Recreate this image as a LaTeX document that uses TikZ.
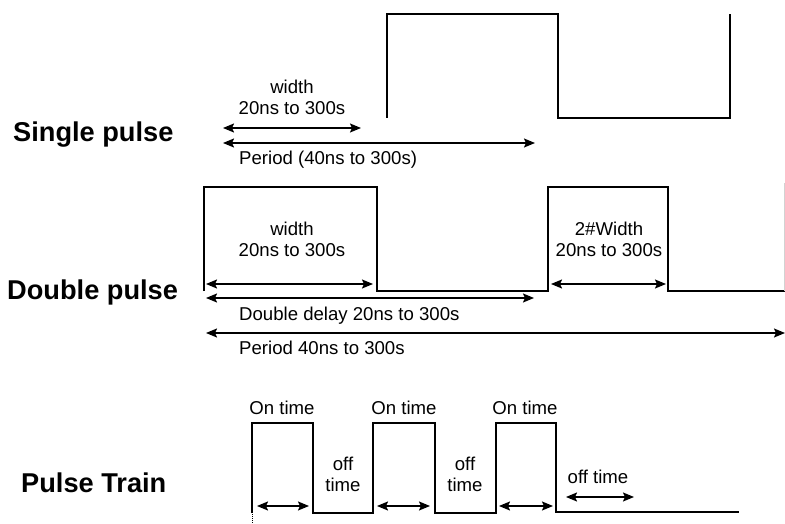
\documentclass[tikz,border=0pt]{standalone}
\usepackage{fontspec}
\setmainfont{Liberation Sans}
\usetikzlibrary{arrows.meta}
\begin{document}
\begin{tikzpicture}[x=1pt,y=-1pt,
  wave/.style={line width=1.6pt,line join=miter},
  dim/.style={line width=1.6pt,{Stealth[length=11pt,width=9pt,inset=2pt]}-{Stealth[length=11pt,width=9pt,inset=2pt]}},
  lbl/.style={font=\fontsize{18.6}{20}\selectfont,inner sep=0pt,anchor=base},
  lbll/.style={lbl,anchor=base west},
  head/.style={font=\fontsize{27.2}{30}\selectfont\bfseries,inner sep=0pt,anchor=base west}]
 \useasboundingbox (0,0) rectangle (785,524);
 % Single pulse
 \node[head] (single) at (13,142) {Single pulse};
 \draw[wave](387,118)--(387,14)--(558,14)--(558,118)--(730,118)--(730,14);
 \coordinate (sw1) at (223,128); \coordinate (sw2) at (361,128);
 \coordinate (sp1) at (223,143); \coordinate (sp2) at (535,143);
 \draw[dim](sw1)--(sw2);
 \draw[dim](sp1)--(sp2);
 \node[lbl] (swidth) at (292,94) {width};
 \node[lbl] (swrange) at (292,115) {20ns to 300s};
 \node[lbll] (speriod) at (239,165) {Period (40ns to 300s)};
 % Double pulse
 \node[head] (double) at (7,299) {Double pulse};
 \draw[wave](204,291)--(204,187)--(377,187)--(377,291)--(548,291)--(548,187)--(668,187)--(668,291)--(785,291);
 \draw[gray!35,line width=0.6pt](784.5,291)--(784.5,183);
 \coordinate (dw1) at (206,284); \coordinate (dw2) at (373,284);
 \coordinate (dd1) at (206,298); \coordinate (dd2) at (534,298);
 \coordinate (dp1) at (206,333); \coordinate (dp2) at (785,333);
 \coordinate (dv1) at (551,284); \coordinate (dv2) at (666,284);
 \draw[dim](dw1)--(dw2);
 \draw[dim](dd1)--(dd2);
 \draw[dim](dp1)--(dp2);
 \draw[dim](dv1)--(dv2);
 \node[lbl] (dwidth) at (292,235) {width};
 \node[lbl] (dwrange) at (292,256) {20ns to 300s};
 \node[lbl] (dwidthb) at (609,235) {2\#Width};
 \node[lbl] (dwrangeb) at (609,256) {20ns to 300s};
 \node[lbll] (ddelay) at (239,320) {Double delay 20ns to 300s};
 \node[lbll] (dperiod) at (239,354) {Period 40ns to 300s};
 % Pulse Train
 \node[head] (train) at (21,492) {Pulse Train};
 \draw[wave](252,513)--(252,423)--(313,423)--(313,513)--(373,513)--(373,423)--(435,423)--(435,513)--(496,513)--(496,423)--(556,423)--(556,512)--(739,512);
 \draw[densely dotted,line width=1pt](252,514)--(252,523);
 \coordinate (t11) at (257,506); \coordinate (t12) at (309,506);
 \coordinate (t21) at (377,506); \coordinate (t22) at (430,506);
 \coordinate (t31) at (499,506); \coordinate (t32) at (553,506);
 \coordinate (t41) at (566,497); \coordinate (t42) at (634,497);
 \draw[dim](t11)--(t12);
 \draw[dim](t21)--(t22);
 \draw[dim](t31)--(t32);
 \draw[dim](t41)--(t42);
 \node[lbl] (on1) at (282,414) {On time};
 \node[lbl] (on2) at (404,414) {On time};
 \node[lbl] (on3) at (525,414) {On time};
 \node[lbl] (off1) at (343,470) {off};
 \node[lbl] (offt1) at (343,491) {time};
 \node[lbl] (off2) at (465,470) {off};
 \node[lbl] (offt2) at (465,491) {time};
 \node[lbl] (off3) at (598,483) {off time};
\end{tikzpicture}
\end{document}
